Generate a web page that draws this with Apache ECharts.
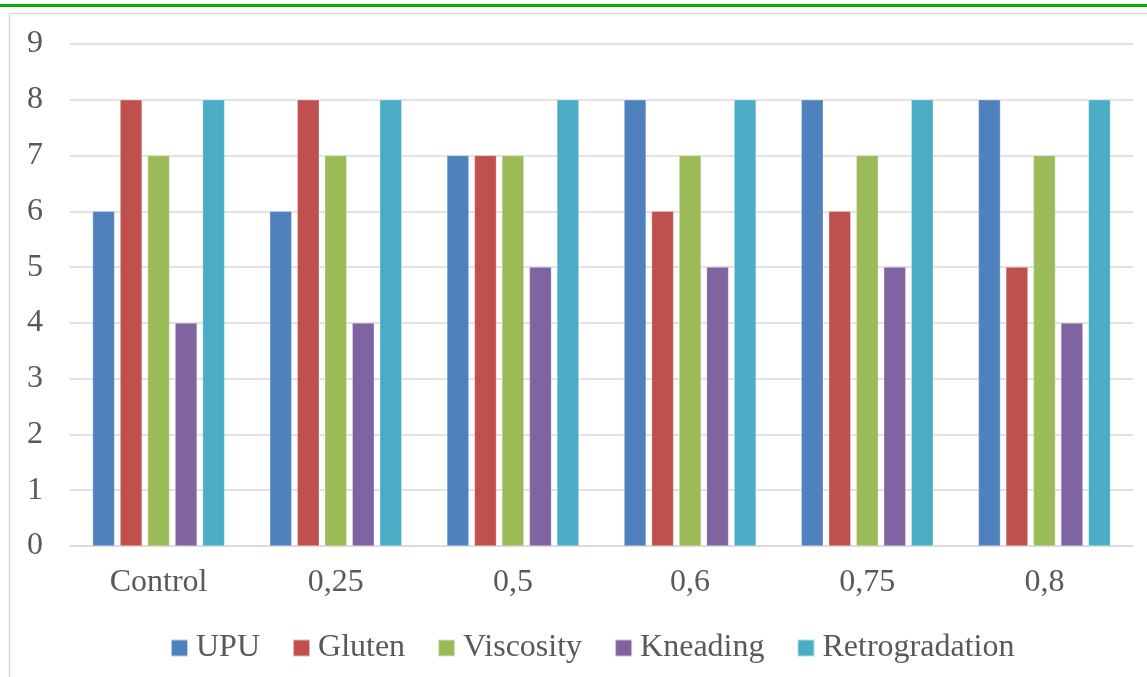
<!DOCTYPE html>
<html>
<head>
<meta charset="utf-8">
<script src="https://cdn.jsdelivr.net/npm/echarts@6/dist/echarts.min.js"></script>
<style>
html,body{margin:0;padding:0;background:#fff;}
#chart{width:1147px;height:677px;}
</style>
</head>
<body>
<div id="chart"></div>
<script>
const categories = ['Control', '0,25', '0,5', '0,6', '0,75', '0,8'];
const seriesNames = ['UPU', 'Gluten', 'Viscosity', 'Kneading', 'Retrogradation'];
const upu = [6, 6, 7, 8, 8, 8];
const gluten = [8, 8, 7, 6, 6, 5];
const viscosity = [7, 7, 7, 7, 7, 7];
const kneading = [4, 4, 5, 5, 5, 4];
const retrogradation = [8, 8, 8, 8, 8, 8];
const yTicks = [0, 1, 2, 3, 4, 5, 6, 7, 8, 9];

const colors = ['#4F81BD', '#C0504D', '#9BBB59', '#8064A2', '#4BACC6'];
const values = [upu, gluten, viscosity, kneading, retrogradation];
const font = '"Liberation Serif", "Times New Roman", serif';
const textColor = '#595959';

const chart = echarts.init(document.getElementById('chart'), null, {renderer: 'canvas'});
chart.setOption({
  animation: false,
  backgroundColor: '#fff',
  color: colors,
  graphic: [
    {type: 'rect', shape: {x: 0, y: 4, width: 1147, height: 3}, style: {fill: '#0AAD0A'}, z: 10},
    {type: 'rect', shape: {x: 9.5, y: 13.5, width: 1200, height: 700}, style: {fill: 'none', stroke: '#D9D9D9', lineWidth: 1.5}, z: 10}
  ],
  grid: {left: 70, right: 14, top: 44, bottom: 131, containLabel: false},
  legend: {
    left: 165,
    top: 627,
    itemWidth: 17,
    itemHeight: 17,
    itemGap: 32,
    icon: 'rect',
    textStyle: {fontFamily: font, fontSize: 32, color: textColor, padding: [0, 0, 0, 3]},
    data: seriesNames
  },
  xAxis: {
    type: 'category',
    data: categories,
    axisLine: {lineStyle: {color: '#D9D9D9', width: 1.5}},
    axisTick: {show: false},
    axisLabel: {fontFamily: font, fontSize: 32, color: textColor, margin: 21}
  },
  yAxis: {
    type: 'value',
    min: 0,
    max: 9,
    interval: 1,
    axisLine: {show: false},
    axisTick: {show: false},
    splitLine: {lineStyle: {color: '#D9D9D9', width: 1.5}},
    axisLabel: {fontFamily: font, fontSize: 32, color: textColor, margin: 27,
      formatter: v => yTicks.includes(v) ? String(v) : ''}
  },
  series: seriesNames.map((name, i) => ({
    name: name,
    type: 'bar',
    data: values[i],
    barWidth: 22,
    barGap: '25%',
    itemStyle: {color: colors[i], borderColor: 'rgba(255,255,255,0.6)', borderWidth: 0.5}
  }))
});
</script>
</body>
</html>
